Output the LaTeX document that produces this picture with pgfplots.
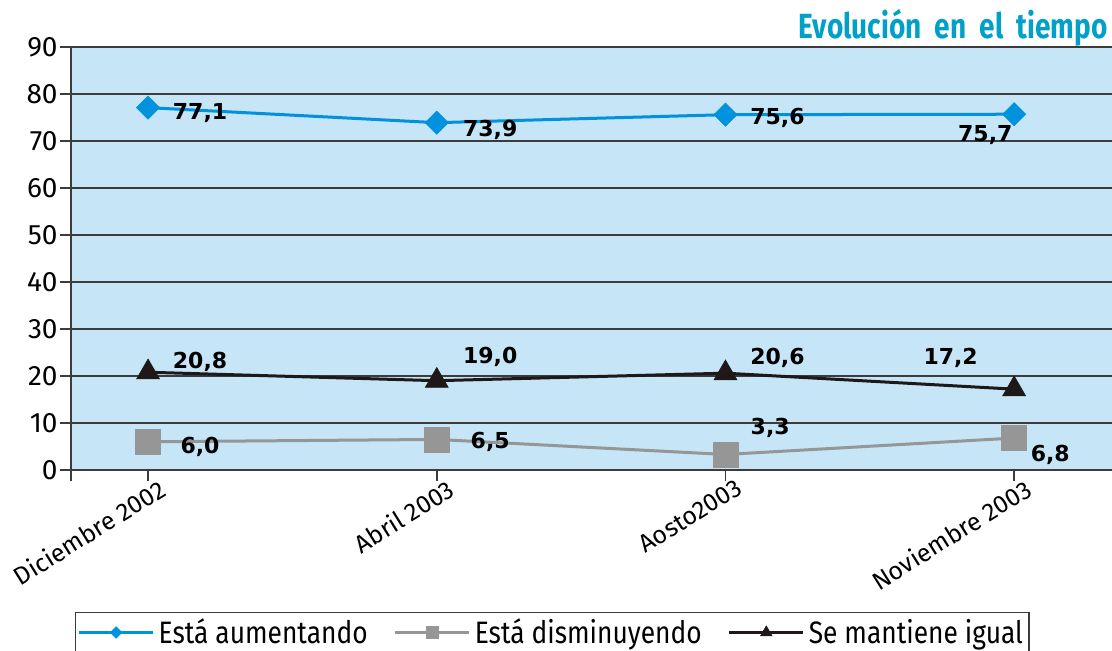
\documentclass[border=0pt]{standalone}
\usepackage{fontspec}
\setmainfont{Fira Sans}
\newfontfamily\lblfont{DejaVu Sans}
\newfontfamily\legfont{Fira Sans}[FakeStretch=0.85]
\newfontfamily\titlefont{Fira Sans}[FakeStretch=0.8]
\usepackage{pgfplots}
\pgfplotsset{compat=1.18}
\definecolor{bgc}{RGB}{198,229,247}
\definecolor{blueline}{RGB}{0,146,221}
\definecolor{grayline}{RGB}{150,150,150}
\definecolor{blackline}{RGB}{30,24,24}
\definecolor{titlec}{RGB}{0,160,200}
\definecolor{gridc}{RGB}{60,60,60}
\begin{document}
\begin{tikzpicture}
\path[use as bounding box] (0,0) rectangle (556pt,325.5pt);
\begin{axis}[
  at={(35.5pt,90.5pt)}, anchor=south west,
  width=520.5pt, height=211.5pt, scale only axis,
  xmin=-0.267, xmax=3.339, ymin=0, ymax=90,
  ytick={0,10,...,90}, xtick={0,1,2,3},
  extra x ticks={-0.267}, extra x tick labels={},
  xticklabels={Diciembre 2002, Abril 2003, Aosto2003, Noviembre 2003},
  axis x line*=bottom, axis y line*=left,
  ymajorgrids, grid style={color=gridc, line width=0.75pt},
  axis line style={line width=0.9pt, color=gridc},
  tick align=outside, major tick length=5.5pt,
  tick style={line width=0.75pt, color=gridc},
  axis background/.style={fill=bgc},
  /pgf/number format/assume math mode=true,
  yticklabel style={font=\fontsize{14}{14}\selectfont, inner sep=1pt},
  xticklabel style={rotate=32, anchor=north east, xshift=6pt, font=\fontsize{12.5}{12.5}\selectfont, inner sep=1pt},
  legend style={at={(axis description cs:0.0038,-0.3357)}, anchor=north west,
    legend columns=3, draw=gridc, line width=0.6pt, fill=white,
    font=\legfont\fontsize{15.5}{15.5}\selectfont, inner sep=1pt,
    /tikz/every even column/.append style={column sep=11pt}},
  legend image code/.code={\draw[mark repeat=2,mark phase=2] plot coordinates {(0pt,0pt) (18.5pt,0pt) (37pt,0pt)};},
  legend image post style={/tikz/every mark/.append style={scale=0.5}},
  clip=false,
]
\addplot[color=blueline, line width=1.5pt, mark=square*, mark size=4.1pt, mark options={rotate=45, line width=0.3pt}] coordinates {(0,77.1)(1,73.9)(2,75.6)(3,75.7)};
\addlegendentry{Está aumentando}
\addplot[color=grayline, line width=1.5pt, mark=square*, mark size=6.2pt, mark options={line width=0.3pt}] coordinates {(0,6.0)(1,6.5)(2,3.3)(3,6.8)};
\addlegendentry{Está disminuyendo}
\addplot[color=blackline, line width=1.5pt, mark=triangle*, mark size=6.6pt, mark options={line width=0.3pt}] coordinates {(0,20.8)(1,19.0)(2,20.6)(3,17.2)};
\addlegendentry{Se mantiene igual}
\tikzset{lbl/.style={font=\lblfont\bfseries\fontsize{11}{11}\selectfont, text=black, inner sep=0pt}}
\node[lbl] at (axis cs:0.18,75.96) {77,1};
\node[lbl] at (axis cs:1.185,72.3) {73,9};
\node[lbl] at (axis cs:2.18,74.9) {75,6};
\node[lbl] at (axis cs:2.90,71.3) {75,7};
\node[lbl] at (axis cs:0.18,23.0) {20,8};
\node[lbl] at (axis cs:1.185,24.0) {19,0};
\node[lbl] at (axis cs:2.18,23.8) {20,6};
\node[lbl] at (axis cs:2.78,23.8) {17,2};
\node[lbl] at (axis cs:0.18,4.9) {6,0};
\node[lbl] at (axis cs:1.185,6.0) {6,5};
\node[lbl] at (axis cs:2.155,8.9) {3,3};
\node[lbl] at (axis cs:3.125,3.2) {6,8};
\end{axis}
\node[anchor=east, inner sep=0pt, text=titlec, font=\titlefont\bfseries\fontsize{17.5}{17.5}\selectfont] at (554pt,311.5pt) {Evolución\ \ en\ \ el\ \ tiempo};
\end{tikzpicture}
\end{document}
